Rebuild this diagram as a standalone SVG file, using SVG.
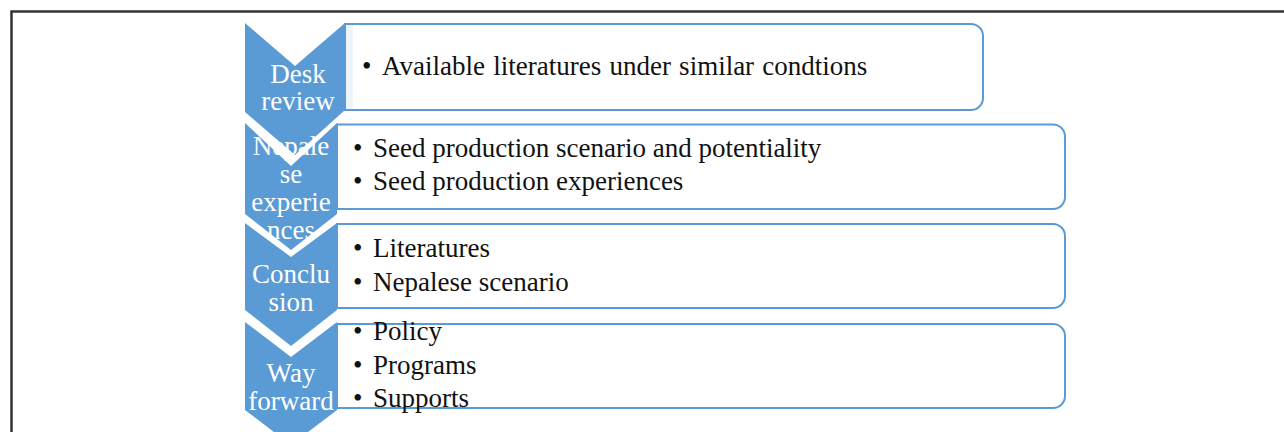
<svg xmlns="http://www.w3.org/2000/svg" width="1284" height="432" viewBox="0 0 1284 432">
  <style>
    .chev { fill: #5B9BD5; }
    .box { fill: #FFFFFF; stroke: #5B9BD5; stroke-width: 2; }
    .ct { font-family: "Liberation Serif", "Times New Roman", serif; font-size: 27px; fill: #FFFFFF; text-anchor: middle; }
    .bt { font-family: "Liberation Serif", "Times New Roman", serif; font-size: 27px; fill: #111111; }
  </style>
  <rect x="0" y="0" width="1284" height="432" fill="#FFFFFF"/>
  <path d="M11.5,432 V11.5 H1284" fill="none" stroke="#333333" stroke-width="2.5"/>

  <g id="connectors"></g>

  <g id="box1">
    <path class="box" d="M345,24 H971 A12,12 0 0 1 983,36 V98 A12,12 0 0 1 971,110 H345 Z"/>
    <rect x="346" y="25" width="7" height="84" fill="#EEF4FB"/>
    <text class="bt" x="362" y="75">•</text>
    <text class="bt" x="382" y="75" word-spacing="1.5">Available literatures under similar condtions</text>
  </g>
  <g id="box2">
    <path class="box" d="M337,124.5 H1053 A12,12 0 0 1 1065,136.5 V197 A12,12 0 0 1 1053,209 H337 Z"/>
    <text class="bt" x="353" y="157">•</text>
    <text class="bt" x="373" y="157">Seed production scenario and potentiality</text>
    <text class="bt" x="353" y="190">•</text>
    <text class="bt" x="373" y="190">Seed production experiences</text>
  </g>
  <g id="box3">
    <path class="box" d="M337,224 H1053 A12,12 0 0 1 1065,236 V296 A12,12 0 0 1 1053,308 H337 Z"/>
    <text class="bt" x="353" y="257">•</text>
    <text class="bt" x="373" y="257">Literatures</text>
    <text class="bt" x="353" y="291">•</text>
    <text class="bt" x="373" y="291">Nepalese scenario</text>
  </g>
  <g id="box4">
    <path class="box" d="M337,324 H1053 A12,12 0 0 1 1065,336 V396 A12,12 0 0 1 1053,408 H337 Z"/>
    <text class="bt" x="353" y="340">•</text>
    <text class="bt" x="373" y="340">Policy</text>
    <text class="bt" x="353" y="374">•</text>
    <text class="bt" x="373" y="374">Programs</text>
    <text class="bt" x="353" y="407">•</text>
    <text class="bt" x="373" y="407">Supports</text>
  </g>

  <g id="chevron1">
    <polygon class="chev" points="245,23 295,66 345,23 345,110 295,155 245,112"/>
    <text class="ct" x="298" y="83">Desk</text>
    <text class="ct" x="298" y="110">review</text>
  </g>
  <g id="chevron2">
    <polygon class="chev" points="245,123 291,166 337,123 337,214 291,250 245,214"/>
    <text class="ct" x="291" y="155">Nepale</text>
    <text class="ct" x="291" y="183">se</text>
    <text class="ct" x="291" y="211">experie</text>
    <text class="ct" x="291" y="239">nces</text>
  </g>
  <g id="chevron3">
    <polygon class="chev" points="245,223 291,257 337,223 337,310 291,346 245,310"/>
    <text class="ct" x="291" y="283">Conclu</text>
    <text class="ct" x="291" y="311">sion</text>
  </g>
  <g id="chevron4">
    <polygon class="chev" points="245,322 291,357 337,322 337,410 291,445 245,410"/>
    <text class="ct" x="291" y="382">Way</text>
    <text class="ct" x="291" y="410">forward</text>
  </g>
</svg>
